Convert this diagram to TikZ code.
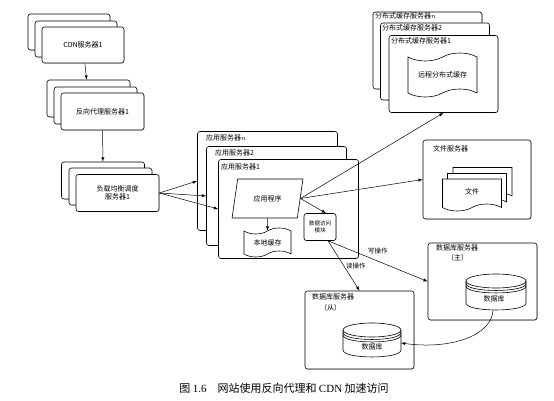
\documentclass[tikz,border=0pt]{standalone}
\usepackage{fontspec}
\setmainfont{Noto Sans CJK SC}
\newfontfamily\capserif{Liberation Serif}
\usetikzlibrary{shapes.geometric,shapes.symbols,shadows}

\tikzset{
  card/.style={draw, fill=white, rounded corners=2.5pt, line width=0.6pt,
    drop shadow={shadow xshift=0.6pt, shadow yshift=-0.6pt, opacity=0.35}},
  txt/.style={font=\fontsize{7}{8.5}\selectfont, align=center, inner sep=0pt},
  lbl/.style={font=\fontsize{7}{8}\selectfont, anchor=west, inner sep=0pt},
  elbl/.style={font=\fontsize{6.5}{8}\selectfont, inner sep=0pt},
  link/.style={->, >=latex, line width=0.5pt},
  cyl/.style={line width=0.6pt},
}

\begin{document}
\begin{tikzpicture}[x=1pt, y=-1pt]
      \useasboundingbox (0,0) rectangle (554,401);
      % CDN servers
      \node [card, minimum width=82pt, minimum height=36pt] (cdn3) at (69,32) {};
      \node [card, minimum width=82pt, minimum height=36pt] (cdn2) at (76,39) {};
      \node [card, minimum width=82pt, minimum height=36pt, txt] (cdn1) at (83,45) {CDN服务器1};
      % reverse proxies
      \node [card, minimum width=83pt, minimum height=37pt] (rp3) at (88.5,98.5) {};
      \node [card, minimum width=83pt, minimum height=37pt] (rp2) at (95.5,105.5) {};
      \node [card, minimum width=83pt, minimum height=37pt, txt] (rp1) at (102.5,111.5) {反向代理服务器1};
      % load balancers
      \node [card, minimum width=83pt, minimum height=37pt] (lb3) at (103,180.5) {};
      \node [card, minimum width=83pt, minimum height=37pt] (lb2) at (110.5,186.5) {};
      \node [card, minimum width=83pt, minimum height=37pt, txt] (lb1) at (117.5,193) {负载均衡调度\\服务器1};
      % application servers
      \node [card, minimum width=140pt, minimum height=99pt] (asn) at (267.5,181) {};
      \node [lbl] (asnlbl) at (206,138) {应用服务器$n$};
      \node [card, minimum width=140pt, minimum height=99pt] (as2) at (276.5,196) {};
      \node [lbl] (as2lbl) at (215,153) {应用服务器2};
      \node [card, minimum width=140pt, minimum height=99pt] (as1) at (288.5,209) {};
      \node [lbl] (as1lbl) at (221,167) {应用服务器1};
      \node [draw, line width=0.6pt, trapezium, trapezium left angle=68, trapezium right angle=112,
        trapezium stretches=true, minimum width=71pt, minimum height=39pt, txt] (app) at (267.5,198.5) {应用程序};
      \node [draw, line width=0.6pt, tape, tape bend height=6pt, minimum width=47pt, minimum height=29pt, txt]
        (lcache) at (267.5,242.5) {本地缓存};
      \node [card, minimum width=32pt, minimum height=27pt, txt, font=\fontsize{5.5}{7}\selectfont]
        (dam) at (320,227) {数据访问\\模块};
      % distributed cache servers
      \node [card, minimum width=109pt, minimum height=77pt] (dc3) at (427.5,50.5) {};
      \node [lbl] (dc3lbl) at (375,16) {分布式缓存服务器$n$};
      \node [card, minimum width=109pt, minimum height=77pt] (dc2) at (435,61.5) {};
      \node [lbl] (dc2lbl) at (382,28) {分布式缓存服务器2};
      \node [card, minimum width=109pt, minimum height=77pt] (dc1) at (443.5,74) {};
      \node [lbl] (dc1lbl) at (391,41) {分布式缓存服务器1};
      \node [draw, line width=0.6pt, tape, tape bend height=8pt, minimum width=69pt, minimum height=44pt, txt]
        (rcache) at (442.5,75) {远程分布式缓存};
      % file server
      \node [card, minimum width=108pt, minimum height=79pt] (fs) at (477,179.5) {};
      \node [lbl] (fslbl) at (433,149) {文件服务器};
      \node [draw, fill=white, line width=0.6pt, tape, tape bend top=none, tape bend height=7pt,
        minimum width=59pt, minimum height=32pt] (doc3) at (482.5,180) {};
      \node [draw, fill=white, line width=0.6pt, tape, tape bend top=none, tape bend height=7pt,
        minimum width=59pt, minimum height=32pt] (doc2) at (477,186) {};
      \node [draw, fill=white, line width=0.6pt, tape, tape bend top=none, tape bend height=7pt,
        minimum width=59pt, minimum height=32pt, txt] (doc1) at (472,191.5) {文件};
      % master database
      \node [card, minimum width=109pt, minimum height=77pt] (mdbs) at (482.5,281.5) {};
      \node [lbl] (mdbslbl) at (436,248) {数据库服务器};
      \node [lbl] (mdbstag) at (447,258) {（主）};
      \draw [cyl] (466,281) -- (466,303) .. controls (466,312.3) and (526,312.3) .. (526,303) -- (526,281);
      \draw [cyl] (496,281) ellipse [x radius=30, y radius=7];
      \draw [cyl] (466,283.5) .. controls (466,292.8) and (526,292.8) .. (526,283.5);
      \draw [cyl] (466,286) .. controls (466,295.3) and (526,295.3) .. (526,286);
      \node [txt] (mdb) at (494,299) {数据库};
      \coordinate (mdbbot) at (493,310);
      % slave database
      \node [card, minimum width=109pt, minimum height=78pt] (sdbs) at (359.5,330) {};
      \node [lbl] (sdbslbl) at (312,297) {数据库服务器};
      \node [lbl] (sdbstag) at (320,308) {（从）};
      \draw [cyl] (343,330) -- (343,350) .. controls (343,359.3) and (401,359.3) .. (401,350) -- (401,330);
      \draw [cyl] (372,330) ellipse [x radius=29, y radius=7];
      \draw [cyl] (343,332.5) .. controls (343,341.8) and (401,341.8) .. (401,332.5);
      \draw [cyl] (343,335) .. controls (343,344.3) and (401,344.3) .. (401,335);
      \node [txt] (sdb) at (372,347) {数据库};
      \coordinate (sdbright) at (401,343);
      % caption
      \node (caption) at (284,388) {\fontsize{11}{13}\selectfont 图 {\capserif 1.6}\quad 网站使用反向代理和 {\capserif CDN} 加速访问};

      % links
      \draw [link] (cdn1) -- (rp3);
      \draw [link] (rp1) -- (lb3);
      \draw [link] (lb1.east) -- (asn.west);
      \draw [link] (lb1.east) -- (as2.west);
      \draw [link] (lb1.east) -- (as1.west);
      \draw [link] (app) -- (lcache);
      \draw [link] (app.east) -- ([xshift=6pt]dam.north);
      \draw [link] (app.east) -- (dc1.south);
      \draw [link] (app.east) -- (fs.west);
      \draw [link] ([xshift=8pt]dam.south) -- node [elbl, pos=0.5, xshift=12pt] {读操作} (sdbs.north);
      \draw [link] ([xshift=8pt]dam.south) -- node [elbl, pos=0.5, yshift=10pt] {写操作} (mdbs.west);
      \draw [link] (mdbbot) .. controls (492,335) and (452,350) .. (sdbright);
    \end{tikzpicture}
\end{document}
